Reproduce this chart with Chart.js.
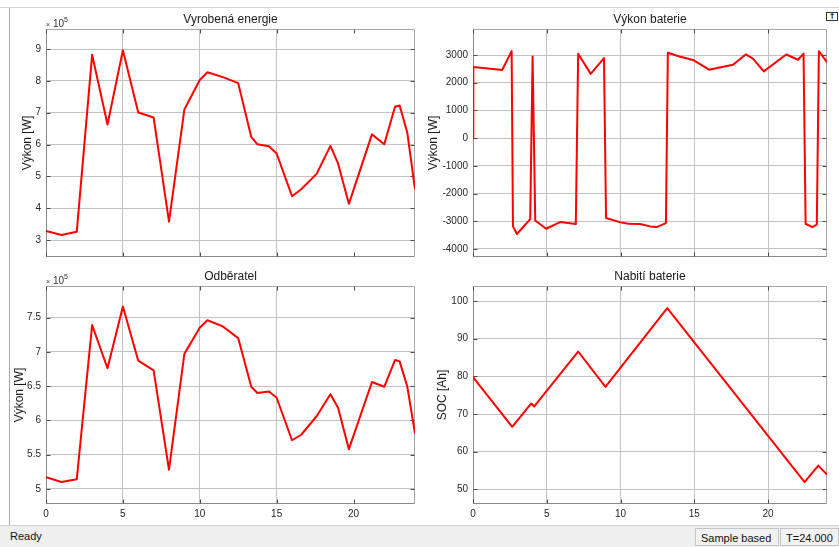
<!DOCTYPE html>
<html>
<head>
<meta charset="utf-8">
<script src="https://cdn.jsdelivr.net/npm/chart.js@4.4.0/dist/chart.umd.min.js"></script>
<style>
body { margin:0; width:839px; height:547px; background:#fff; position:relative; overflow:hidden; font-family:"Liberation Sans", Arial, sans-serif; }
canvas { position:absolute; }
#topline { position:absolute; left:0; top:7px; width:839px; height:1px; background:#d4d4d4; }
#leftline { position:absolute; left:9px; top:8px; width:1px; height:517px; background:#a8a8a8; }
#status { position:absolute; left:0; top:525px; width:839px; height:22px; background:#efefef; border-top:1px solid #d0d0d0; font-size:11px; color:#111; }
#ready { position:absolute; left:10px; top:4px; }
.box { position:absolute; top:2px; height:18px; border:1px solid #c6c6c6; box-sizing:border-box; padding:3px 0 0 5px; background:#f2f2f2; }
#undock { position:absolute; left:826px; top:12px; width:12px; height:9px; border:1px solid #333; box-sizing:border-box; font:bold 8px "DejaVu Sans"; line-height:7px; text-align:center; color:#111; }
</style>
</head>
<body>
<div id="topline"></div>
<div id="leftline"></div>
<div id="undock">↑</div>
<canvas id="c1" width="420" height="270" style="left:0;top:0"></canvas>
<canvas id="c2" width="419" height="270" style="left:420px;top:0"></canvas>
<canvas id="c3" width="420" height="255" style="left:0;top:270px"></canvas>
<canvas id="c4" width="419" height="255" style="left:420px;top:270px"></canvas>
<div id="status">
  <span id="ready">Ready</span>
  <div class="box" style="left:695px;width:84px">Sample based</div>
  <div class="box" style="left:780px;width:59px">T=24.000</div>
</div>
<script>
// cas [h]
var casVyroba = [0, 1, 2, 3, 4, 5, 6, 7, 8, 9, 10, 10.5, 11.5, 12.5, 13.35, 13.75, 14.5, 15, 16, 16.6, 17.6, 18.5, 19, 19.7, 21.2, 22, 22.7, 23, 23.5, 24];
var vyrobaW = [329000, 316000, 326000, 882000, 663000, 896000, 701000, 685000, 358000, 710000, 803000, 827000, 812000, 793000, 624000, 601000, 595000, 572000, 438000, 460000, 508000, 596000, 540000, 414000, 632000, 601000, 719000, 723000, 637000, 460000];
var odberW = [517000, 510000, 514000, 739000, 676000, 766000, 687000, 673000, 528000, 697000, 735000, 746000, 737000, 720000, 649000, 640000, 642000, 633000, 571000, 579000, 606000, 638000, 618000, 558000, 656000, 649000, 688000, 686000, 649000, 581000];

var casBaterie = [0, 0.02, 1.98, 2.62, 2.71, 2.98, 3.88, 4.04, 4.22, 4.96, 5.9, 6.97, 7.13, 7.98, 8.88, 9.02, 10, 10.53, 11.32, 12, 12.45, 13.08, 13.21, 14, 14.97, 16, 17.63, 18.49, 18.98, 19.71, 21.24, 22.03, 22.41, 22.55, 23, 23.31, 23.45, 24];
var vykonBaterie = [0, 2570, 2460, 3140, -3185, -3460, -2920, 2950, -2970, -3270, -3030, -3100, 3050, 2320, 2890, -2885, -3040, -3090, -3100, -3185, -3210, -3065, 3080, 2950, 2810, 2470, 2650, 3020, 2870, 2410, 3020, 2830, 3050, -3090, -3210, -3125, 3140, 2740];

var casSoc = [0, 2.66, 3.95, 4.15, 7.13, 8.98, 13.17, 22.48, 23.41, 24];
var soc = [79.8, 66.6, 72.8, 72.0, 86.6, 77.2, 98.1, 51.9, 56.3, 53.9];

var xTicky = [0, 5, 10, 15, 20];
var yTickyVyroba = [300000, 400000, 500000, 600000, 700000, 800000, 900000];
var yTickyOdber = [500000, 550000, 600000, 650000, 700000, 750000];
var yTickyBaterie = [-4000, -3000, -2000, -1000, 0, 1000, 2000, 3000];
var yTickySoc = [50, 60, 70, 80, 90, 100];

var pismo = '"Liberation Sans", Arial, sans-serif';

function body(xs, ys) {
    return xs.map(function(x, i) { return {x: x, y: ys[i]}; });
}

var ramecek = {
    id: 'ramecek',
    beforeDatasetsDraw: function(chart) {
        var a = chart.chartArea, ctx = chart.ctx;
        var l = Math.round(a.left) + 0.5, t = Math.round(a.top) + 0.5;
        var r = Math.round(a.right) - 0.5, b = Math.round(a.bottom) - 0.5;
        ctx.save();
        ctx.lineWidth = 1;
        ctx.strokeStyle = '#a6a6a6';
        ctx.beginPath();
        ctx.moveTo(l, t); ctx.lineTo(r, t); ctx.lineTo(r, b);
        ctx.stroke();
        ctx.strokeStyle = '#8a8a8a';
        ctx.beginPath();
        ctx.moveTo(l, t); ctx.lineTo(l, b); ctx.lineTo(r, b);
        ctx.stroke();
        // kratke znacky dovnitr
        ctx.strokeStyle = '#4a4a4a';
        ctx.beginPath();
        chart.scales.y.ticks.forEach(function(tk) {
            var y = Math.round(chart.scales.y.getPixelForValue(tk.value)) + 0.5;
            ctx.moveTo(l, y); ctx.lineTo(l + 4, y);
            ctx.moveTo(r, y); ctx.lineTo(r - 4, y);
        });
        chart.scales.x.ticks.forEach(function(tk) {
            var x = Math.round(chart.scales.x.getPixelForValue(tk.value)) + 0.5;
            ctx.moveTo(x, b); ctx.lineTo(x, b - 4);
            ctx.moveTo(x, t); ctx.lineTo(x, t + 4);
        });
        ctx.stroke();
        ctx.restore();
    },
    afterDraw: function(chart, args, opts) {
        var a = chart.chartArea, ctx = chart.ctx;
        ctx.save();
        ctx.fillStyle = '#1a1a1a';
        ctx.font = '12px ' + pismo;
        ctx.textAlign = 'center';
        ctx.textBaseline = 'middle';
        ctx.fillText(opts.nadpis, (a.left + a.right) / 2, a.top - 9);
        if (opts.exponent) {
            ctx.textAlign = 'left';
            ctx.textBaseline = 'alphabetic';
            ctx.fillStyle = '#333';
            ctx.font = '7px ' + pismo;
            ctx.fillText('×', a.left, a.top - 2);
            ctx.font = '10px ' + pismo;
            ctx.fillText('10', a.left + 7, a.top - 2);
            ctx.font = '7px ' + pismo;
            ctx.fillText(opts.exponent, a.left + 18, a.top - 7);
        }
        ctx.restore();
    }
};

function graf(id, data, o) {
    var ctx = document.getElementById(id).getContext('2d');
    return new Chart(ctx, {
        type: 'line',
        data: {
            datasets: [{
                data: data,
                borderColor: '#ff0000',
                borderWidth: 2,
                pointRadius: 0,
                tension: 0,
                borderJoinStyle: 'round',
                fill: false
            }]
        },
        options: {
            responsive: false,
            animation: false,
            devicePixelRatio: 1,
            parsing: false,
            layout: { padding: o.padding },
            plugins: {
                legend: { display: false },
                tooltip: { enabled: false },
                ramecek: { nadpis: o.nadpis, exponent: o.exponent }
            },
            scales: {
                x: {
                    type: 'linear',
                    min: 0,
                    max: 24,
                    afterBuildTicks: function(s) { s.ticks = xTicky.map(function(v) { return {value: v}; }); },
                    afterFit: function(s) { s.height = o.xVyska; },
                    border: { display: false },
                    grid: {
                        drawTicks: false,
                        color: function(c) { return (o.bez20 && c.tick && c.tick.value === 20) ? 'rgba(0,0,0,0)' : '#c2c2c2'; }
                    },
                    ticks: {
                        display: o.xPopisky,
                        padding: 4,
                        color: '#262626',
                        font: { size: 10, family: pismo },
                        maxRotation: 0
                    }
                },
                y: {
                    type: 'linear',
                    min: o.min,
                    max: o.max,
                    afterBuildTicks: function(s) { s.ticks = o.yTicky.map(function(v) { return {value: v}; }); },
                    afterFit: function(s) { s.width = o.ySirka; },
                    border: { display: false },
                    grid: { drawTicks: false, color: '#c2c2c2' },
                    ticks: {
                        padding: 5,
                        color: '#262626',
                        font: { size: 10, family: pismo },
                        callback: o.popisek || function(v) { return v; }
                    },
                    title: {
                        display: true,
                        text: o.yNazev,
                        color: '#1a1a1a',
                        font: { size: 12, family: pismo },
                        padding: { top: o.titulOdsazeni, bottom: 0 }
                    }
                }
            }
        },
        plugins: [ramecek]
    });
}

var naPet = function(v) { return String(v / 100000); };

graf('c1', body(casVyroba, vyrobaW), {
    nadpis: 'Vyrobená energie', exponent: '5', yNazev: 'Výkon [W]',
    min: 247000, max: 963000, yTicky: yTickyVyroba, popisek: naPet,
    padding: { top: 29, right: 5, bottom: 13, left: 0 },
    ySirka: 46, xVyska: 0, xPopisky: false, titulOdsazeni: 20, bez20: true
});
graf('c2', body(casBaterie, vykonBaterie), {
    nadpis: 'Výkon baterie', yNazev: 'Výkon [W]',
    min: -4290, max: 3940, yTicky: yTickyBaterie,
    padding: { top: 29, right: 12, bottom: 13, left: 0 },
    ySirka: 53, xVyska: 0, xPopisky: false, titulOdsazeni: 6, bez20: false
});
graf('c3', body(casVyroba, odberW), {
    nadpis: 'Odběratel', exponent: '5', yNazev: 'Výkon [W]',
    min: 478000, max: 796000, yTicky: yTickyOdber, popisek: naPet,
    padding: { top: 16, right: 5, bottom: 0, left: 0 },
    ySirka: 46, xVyska: 21, xPopisky: true, titulOdsazeni: 12, bez20: true
});
graf('c4', body(casSoc, soc), {
    nadpis: 'Nabití baterie', yNazev: 'SOC [Ah]',
    min: 46.1, max: 104, yTicky: yTickySoc,
    padding: { top: 16, right: 12, bottom: 0, left: 0 },
    ySirka: 53, xVyska: 21, xPopisky: true, titulOdsazeni: 15, bez20: false
});
</script>
</body>
</html>
